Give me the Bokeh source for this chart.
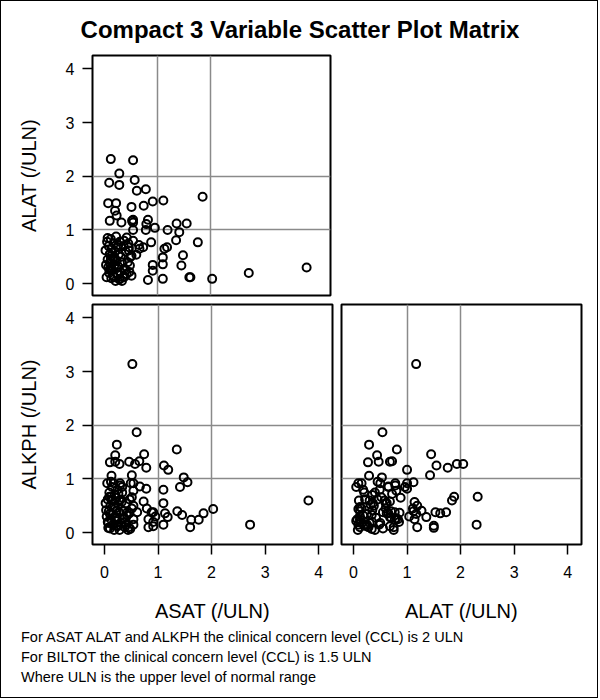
from bokeh.plotting import figure
from bokeh.models import FixedTicker, Div, Spacer
from bokeh.layouts import column, row
from bokeh.embed import file_html
from bokeh.resources import INLINE

# Lab values per subject, all in units of ULN
asat = [3.81, 2.72, 2.03, 1.85, 0.52, 1.76, 1.62, 1.60, 0.60, 0.23,
        1.35, 0.74, 0.20, 0.28, 0.57, 0.10, 0.20, 0.46, 0.65, 1.11,
        0.78, 1.19, 0.51, 0.13, 1.48, 1.55, 1.41, 0.12, 0.54, 0.09,
        0.28, 0.32, 0.23, 0.91, 0.61, 0.20, 0.82, 0.07, 0.22, 0.10,
        0.54, 0.54, 0.79, 0.95, 0.78, 0.54, 1.36, 1.45, 1.10, 1.10,
        1.13, 1.18, 1.10, 0.88, 0.73, 0.66, 0.54, 0.42, 0.51, 0.49,
        0.48, 0.51, 0.38, 0.29, 0.91, 0.91, 0.82,
        0.02, 0.04, 0.05, 0.06, 0.07, 0.08, 0.09, 0.10, 0.11, 0.12,
        0.13, 0.14, 0.15, 0.16, 0.17, 0.18, 0.19, 0.20, 0.21, 0.22,
        0.23, 0.24, 0.25, 0.26, 0.27, 0.28, 0.29, 0.30, 0.31, 0.33,
        0.35, 0.36, 0.38, 0.40, 0.42, 0.03, 0.06, 0.15, 0.18, 0.26,
        0.33, 0.12, 0.45, 0.47, 0.46, 0.37, 0.40, 0.44]
alat = [0.30, 0.20, 0.09, 1.62, 1.17, 0.77, 0.12, 0.12, 0.54, 0.29,
        0.81, 1.45, 0.44, 2.05, 1.93, 0.27, 0.47, 0.68, 0.72, 1.55,
        1.76, 1.00, 1.43, 0.29, 0.53, 1.12, 0.96, 2.32, 2.30, 1.88,
        1.84, 1.14, 1.27, 1.53, 1.73, 1.36, 1.19, 1.50, 1.50, 1.17,
        1.19, 1.14, 1.11, 1.04, 1.00, 1.00, 1.12, 0.34, 0.49, 0.36,
        0.65, 0.68, 0.09, 0.77, 0.68, 0.65, 0.80, 0.86, 0.52, 0.50,
        0.34, 0.15, 0.13, 0.09, 0.35, 0.24, 0.07,
        0.62, 0.12, 0.78, 0.45, 0.30, 0.70, 0.20, 0.55, 0.38, 0.83,
        0.10, 0.65, 0.25, 0.48, 0.15, 0.75, 0.35, 0.60, 0.05, 0.88,
        0.42, 0.18, 0.68, 0.32, 0.55, 0.08, 0.78, 0.22, 0.50, 0.40,
        0.12, 0.70, 0.28, 0.60, 0.18, 0.35, 0.85, 0.58, 0.12, 0.72,
        0.05, 0.45, 0.75, 0.22, 0.62, 0.80, 0.25, 0.40]
alkph = [0.60, 0.15, 0.44, 0.36, 3.14, 0.24, 0.24, 0.10, 1.87, 1.64,
         1.55, 1.46, 1.44, 1.28, 1.28, 1.31, 1.32, 1.32, 1.33, 1.25,
         1.21, 1.17, 1.07, 1.06, 1.03, 0.94, 0.85, 0.67, 0.15, 0.67,
         0.60, 0.57, 0.41, 0.38, 0.38, 0.29, 0.10, 0.09, 0.13, 0.35,
         0.50, 0.25, 0.45, 0.30, 0.82, 0.92, 0.40, 0.33, 0.80, 0.55,
         0.36, 0.29, 0.15, 0.38, 0.58, 0.86, 0.78, 0.37, 0.66, 0.92,
         0.07, 0.45, 0.20, 0.92, 0.20, 0.12, 0.25,
         0.55, 0.30, 0.92, 0.62, 0.18, 0.40, 0.75, 0.08, 0.50, 0.25,
         0.60, 0.85, 0.35, 0.15, 0.92, 0.05, 0.70, 0.45, 0.22, 0.65,
         0.28, 0.80, 0.12, 0.52, 0.38, 0.05, 0.88, 0.62, 0.18, 0.75,
         0.40, 0.28, 0.10, 0.55, 0.32, 0.42, 0.20, 0.60, 0.48, 0.72,
         0.85, 0.95, 0.10, 0.62, 0.36, 0.27, 0.15, 0.05]

ticks = [0, 1, 2, 3, 4]
ref_levels = [1, 2]   # gray reference lines at 1 and 2 ULN

title_text = "Compact 3 Variable Scatter Plot Matrix"
footnotes = ["For ASAT ALAT and ALKPH the clinical concern level (CCL) is 2 ULN",
             "For BILTOT the clinical concern level (CCL) is 1.5 ULN",
             "Where ULN is the upper level of normal range"]

FONT = "Liberation Sans"


def make_panel(x, y, xlabel=None, ylabel=None, **borders):
    p = figure(frame_width=240, frame_height=240,
               x_range=(-0.225, 4.26), y_range=(-0.22, 4.25),
               x_axis_location="below" if xlabel else None,
               y_axis_location="left" if ylabel else None,
               output_backend="svg", toolbar_location=None, **borders)
    p.background_fill_color = "white"
    p.border_fill_color = "white"
    p.outline_line_color = "black"
    p.outline_line_width = 2
    p.outline_line_alpha = 1.0

    # only the reference levels get grid lines
    for g in (p.xgrid, p.ygrid):
        g.ticker = FixedTicker(ticks=ref_levels)
        g.grid_line_color = "#8a8a8a"
        g.grid_line_width = 1.5

    for ax, lab in ((p.xaxis, xlabel), (p.yaxis, ylabel)):
        if not lab:
            continue
        ax.axis_label = lab
        ax.ticker = FixedTicker(ticks=ticks)
        ax.axis_line_color = None
        ax.major_tick_line_color = "black"
        ax.major_tick_line_width = 1.5
        ax.major_tick_in = 0
        ax.major_tick_out = 10
        ax.minor_tick_line_color = None
        ax.major_label_text_font = FONT
        ax.major_label_text_font_size = "16px"
        ax.major_label_text_color = "black"
        ax.axis_label_text_font = FONT
        ax.axis_label_text_font_size = "20px"
        ax.axis_label_text_font_style = "normal"
        ax.axis_label_text_color = "black"
    if xlabel:
        p.xaxis.major_label_standoff = 11
        p.xaxis.axis_label_standoff = 19
    if ylabel:
        p.yaxis.major_label_standoff = 8
        p.yaxis.axis_label_standoff = 23

    p.scatter(x, y, marker="circle", size=8, fill_color=None,
              line_color="black", line_width=2)
    return p


p1 = make_panel(asat, alat, ylabel="ALAT (/ULN)",
                min_border_left=91, min_border_right=2, min_border_top=5, min_border_bottom=4)
p2 = make_panel(asat, alkph, xlabel="ASAT (/ULN)", ylabel="ALKPH (/ULN)",
                min_border_left=91, min_border_right=2, min_border_top=5, min_border_bottom=80)
p3 = make_panel(alat, alkph, xlabel="ALAT (/ULN)",
                min_border_left=7, min_border_right=11, min_border_top=5, min_border_bottom=80)

# Divs are widgets with a default 5px margin, so zero it
title = Div(text='<div style="font-family: %s; font-size: 24px; font-weight: bold; '
                 'text-align: center; width: 598px; padding-top: 15px; line-height: 28px;">%s</div>'
                 % (FONT, title_text),
            width=598, height=49, margin=0)

notes = Div(text='<div style="font-family: %s; font-size: 14.5px; line-height: 20px; '
                 'padding-left: 20px; padding-top: 3px; color: black;">%s</div>'
                 % (FONT, "<br>".join(footnotes)),
            width=598, height=74, margin=0)

layout = column(title,
                row(p1, Spacer(width=265, height=249)),
                row(p2, p3),
                notes,
                width=598, height=698,
                styles={"border": "1px solid black", "background-color": "white"})

open("out.html", "w").write(file_html(layout, INLINE))
